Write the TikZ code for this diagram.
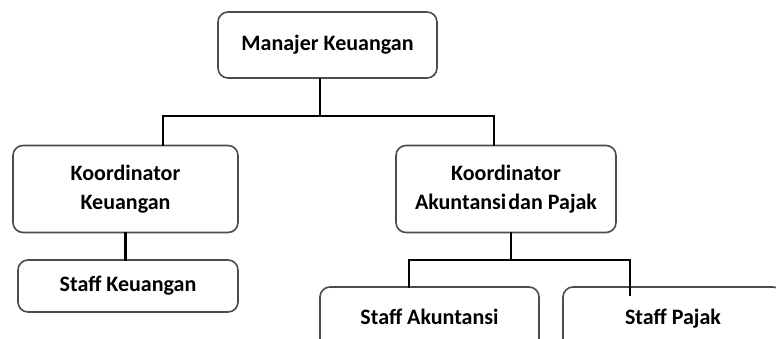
\documentclass[tikz,border=0pt]{standalone}
\usepackage{fontspec}
\setmainfont{Carlito}
\begin{document}
\begin{tikzpicture}[
        x=1pt, y=-1pt,
        font=\bfseries\fontsize{22}{29}\selectfont
    ]
    \tikzset{
        unitbox/.style = {rectangle, rounded corners=10pt, draw=black!70, line width=1.6pt,
                          fill=white, align=center, inner sep=0pt},
        bigbox/.style = {unitbox, minimum width=220pt, minimum height=87pt},
        staffbox/.style = {unitbox, minimum width=220pt, minimum height=52pt},
        conn/.style = {-, line width=2.6pt, black, line cap=rect},
    }
    \clip (0,0) rectangle (776,338);
    \fill[white] (0,0) rectangle (776,338);
    % boxes
    \node[unitbox, minimum width=219pt, minimum height=66pt] at (327.5,45) (mk) {\raisebox{3pt}{Manajer Keuangan}};
    \node[bigbox, minimum width=225pt] at (125.5,189) (kk) {Koordinator\\Keuangan};
    \node[bigbox] at (506,189) (kap) {Koordinator\\Akuntansi\hspace{2pt}dan Pajak};
    \node[staffbox] at (128,286) (sk) {Staff Keuangan};
    \node[staffbox, minimum width=219pt, minimum height=70pt] at (429.5,322) (sa) {\raisebox{10pt}{Staff Akuntansi}};
    \node[staffbox, minimum height=70pt] at (673,322) (sp) {\raisebox{10pt}{Staff Pajak}};
    % junctions
    \coordinate (j1) at (320,116);
    \coordinate (l1) at (163,116);
    \coordinate (r1) at (494,116);
    \coordinate (j2) at (511,260);
    \coordinate (l2) at (409,260);
    \coordinate (r2) at (630,260);
    \coordinate (r2e) at (630,295);
    %
    \draw[conn] (mk.south -| j1) -- (j1);
    \draw[conn] (kk.north -| l1) -- (l1) -- (r1) -- (kap.north -| r1);
    \draw[conn] (kk.south) -- (kk.south |- sk.north);
    %
    \draw[conn] (kap.south -| j2) -- (j2);
    \draw[conn] (sa.north -| l2) -- (l2) -- (r2) -- (r2e);
\end{tikzpicture}
\end{document}
